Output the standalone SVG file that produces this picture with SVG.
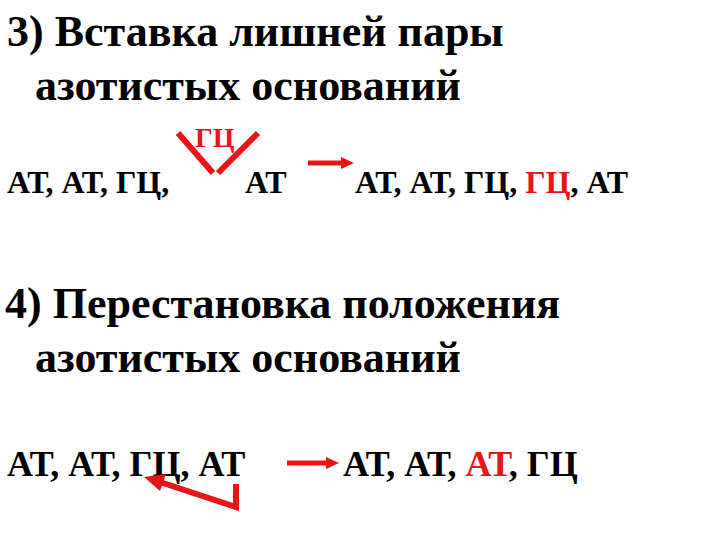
<svg xmlns="http://www.w3.org/2000/svg" width="720" height="540" viewBox="0 0 720 540">
<rect width="720" height="540" fill="#fff"/>
<text x="7" y="46" font-family="Liberation Serif" font-weight="bold" font-size="44">3) Вставка лишней пары</text>
<text x="35" y="100" font-family="Liberation Serif" font-weight="bold" font-size="44">азотистых оснований</text>
<text x="7" y="193" font-family="Liberation Serif" font-weight="bold" font-size="32">АТ, АТ, ГЦ,</text>
<text x="195" y="147" font-family="Liberation Serif" font-weight="bold" font-size="28" fill="#e8141a">ГЦ</text>
<text x="245" y="193" font-family="Liberation Serif" font-weight="bold" font-size="32">АТ</text>
<text x="355" y="193" font-family="Liberation Serif" font-weight="bold" font-size="32">АТ, АТ, ГЦ, <tspan fill="#e8141a">ГЦ</tspan>, АТ</text>
<text x="5" y="318" font-family="Liberation Serif" font-weight="bold" font-size="44">4) Перестановка положения</text>
<text x="35" y="372" font-family="Liberation Serif" font-weight="bold" font-size="44">азотистых оснований</text>
<text x="7" y="476" font-family="Liberation Serif" font-weight="bold" font-size="36">АТ, АТ, ГЦ, АТ</text>
<text x="343" y="476" font-family="Liberation Serif" font-weight="bold" font-size="36">АТ, АТ, <tspan fill="#e8141a">АТ</tspan>, ГЦ</text>
<g id="connectors" fill="none" stroke="#e8141a">
<path d="M178,133 L213,173 M258,133 L218,173" stroke-width="6"/>
<path d="M308,163 L343,163" stroke-width="5"/>
<path d="M341,157 L354,163 L341,169 z" fill="#e8141a" stroke="none"/>
<path d="M287,463 L328,463" stroke-width="5"/>
<path d="M326,457 L339,463 L326,469 z" fill="#e8141a" stroke="none"/>
<path d="M236,484 L236,507 L160,482" stroke-width="6"/>
<path d="M144,477 L166,474 L160,491 z" fill="#e8141a" stroke="none"/>
</g>
</svg>
